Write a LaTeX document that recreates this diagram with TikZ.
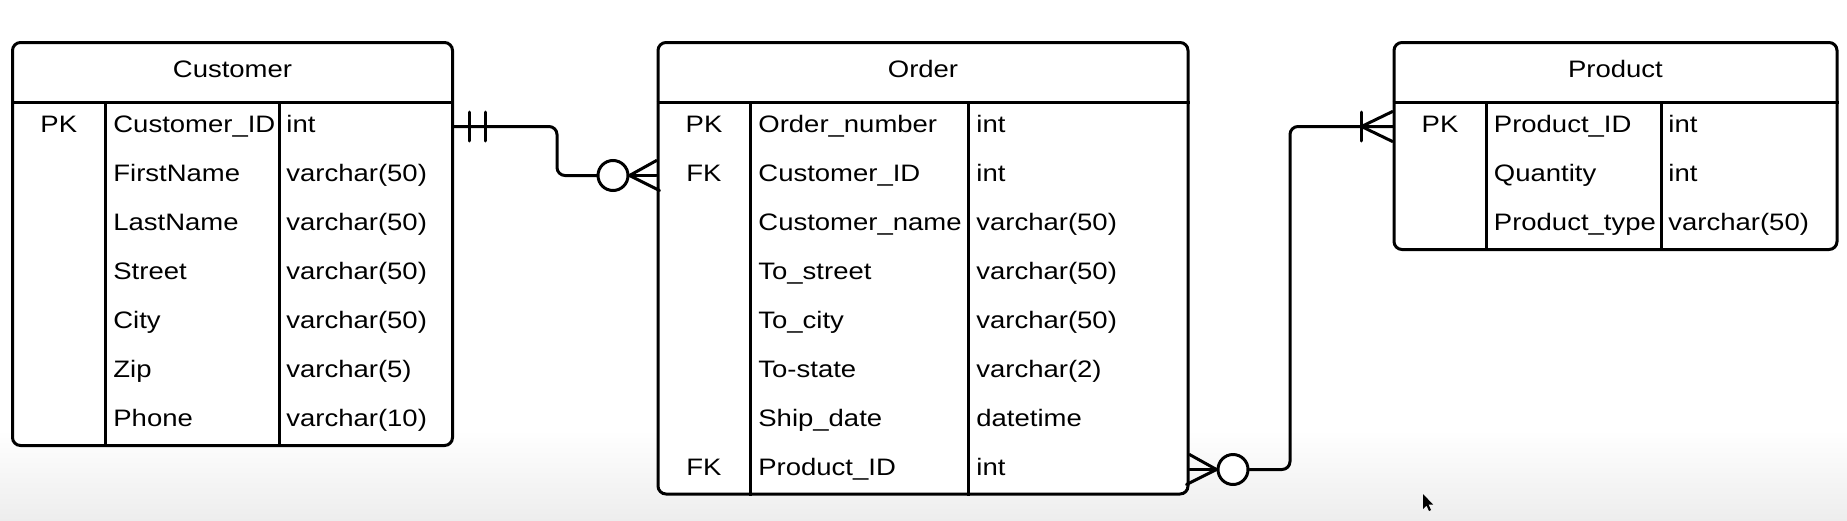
\documentclass[tikz,border=0pt]{standalone}
\usepackage{fontspec}
\setmainfont[FakeStretch=1.155]{Liberation Sans}
\usetikzlibrary{positioning}

\tikzset{
    tbl/.style={draw=black, line width=1.5pt, rounded corners=4pt, inner sep=0pt, fill=white},
    key/.style={anchor=center, inner sep=0pt, text height=8.5pt, text depth=2.2pt},
    field/.style={anchor=west, inner sep=0pt, text height=8.5pt, text depth=2.2pt},
    title/.style={anchor=center, inner sep=0pt, text height=8.5pt, text depth=1.2pt},
    link/.style={line width=1.5pt, line cap=round, line join=round},
    zeromark/.style={circle, draw=black, line width=1.5pt, fill=white, minimum size=15pt, inner sep=0pt}
}

\begin{document}
\begin{tikzpicture}[x=0.5pt, y=-0.5pt, font=\fontsize{11.9pt}{14pt}\selectfont]
    \useasboundingbox (0,0) rectangle (1847,520);
    \fill[white] (0,0) rectangle (1847,520);
    \shade[top color=white, bottom color=black!7, draw=none] (0,430) rectangle (1847,520);

    % tables
    \node[tbl, minimum width=220pt, minimum height=201.5pt] (customer) at (232.5,244) {};
    \node[tbl, minimum width=265pt, minimum height=225.75pt] (order) at (923,268.25) {};
    \node[tbl, minimum width=221.5pt, minimum height=103.5pt] (product) at (1615.5,146) {};

    \node[title] (customertitle) at (232.5,70) {Customer};
    \node[title] (ordertitle) at (923,70) {Order};
    \node[title] (producttitle) at (1615.5,70) {Product};

    \draw[line width=1.5pt] (customer.west |- 0,102) -- (customer.east |- 0,102);
    \draw[line width=1.5pt] (order.west |- 0,102) -- (order.east |- 0,102);
    \draw[line width=1.5pt] (product.west |- 0,102) -- (product.east |- 0,102);

    \draw[line width=1.5pt] (105,102) -- (105,0 |- customer.south);
    \draw[line width=1.5pt] (279,102) -- (279,0 |- customer.south);
    \draw[line width=1.5pt] (750.5,102) -- (750.5,0 |- order.south);
    \draw[line width=1.5pt] (968,102) -- (968,0 |- order.south);
    \draw[line width=1.5pt] (1486,102) -- (1486,0 |- product.south);
    \draw[line width=1.5pt] (1661.5,102) -- (1661.5,0 |- product.south);

    % rows
    \foreach \fname/\ftype [count=\i] in {Customer\_ID/int, FirstName/varchar(50), LastName/varchar(50), Street/varchar(50), City/varchar(50), Zip/varchar(5), Phone/varchar(10)}
    {
        \node[field] (cf\i) at (113,{77.5+49*\i}) {\fname};
        \node[field] (ct\i) at (286,{77.5+49*\i}) {\ftype};
    }
    \foreach \fname/\ftype [count=\i] in {Order\_number/int, Customer\_ID/int, Customer\_name/varchar(50), To\_street/varchar(50), To\_city/varchar(50), To-state/varchar(2), Ship\_date/datetime, Product\_ID/int}
    {
        \node[field] (of\i) at (758,{77.5+49*\i}) {\fname};
        \node[field] (ot\i) at (976,{77.5+49*\i}) {\ftype};
    }
    \foreach \fname/\ftype [count=\i] in {Product\_ID/int, Quantity/int, Product\_type/varchar(50)}
    {
        \node[field] (pf\i) at (1493.5,{77.5+49*\i}) {\fname};
        \node[field] (pt\i) at (1668,{77.5+49*\i}) {\ftype};
    }

    \node[key] (ck1) at (58.75,126.5) {PK};
    \node[key] (ok1) at (704,126.5) {PK};
    \node[key] (ok2) at (704,175.5) {FK};
    \node[key] (ok8) at (704,469.5) {FK};
    \node[key] (pk1) at (1440,126.5) {PK};

    % customer -- order
    \node[zeromark] (zero1) at (613,175.5) {};
    \draw[link, rounded corners=4pt] (customer.east |- cf1) -- (557,126.5) -- (557,175.5) -- (zero1);
    \draw[link] (customer.east |- cf1) ++(15,-14.5) -- ++(0,29);
    \draw[link] (customer.east |- cf1) ++(31,-14.5) -- ++(0,29);
    \draw[link] (order.west |- of2) ++(0,-15) -- (zero1.east) -- ++(30,15);
    \draw[link] (zero1.east) -- (order.west |- of2);

    % order -- product
    \node[zeromark] (zero2) at (1233,469.5) {};
    \draw[link] (order.east |- of8) ++(0,-15) -- (zero2.west) -- ++(-30,15);
    \draw[link] (zero2.west) -- (order.east |- of8);
    \draw[link, rounded corners=4pt] (zero2) -- (1290,469.5) -- (1290,126.5) -- (product.west |- pf1);
    \draw[link] (product.west |- pf1) ++(0,-15) -- ++(-31,15) -- ++(31,15);
    \draw[link] (product.west |- pf1) ++(-31,-14.5) -- ++(0,29);

    % pointer
    \fill[black] (1423,494) -- (1423,509) -- (1426.5,505.5) -- (1429,511) -- (1431,510) -- (1428.5,504.5) -- (1433,504.5) -- cycle;
\end{tikzpicture}
\end{document}
